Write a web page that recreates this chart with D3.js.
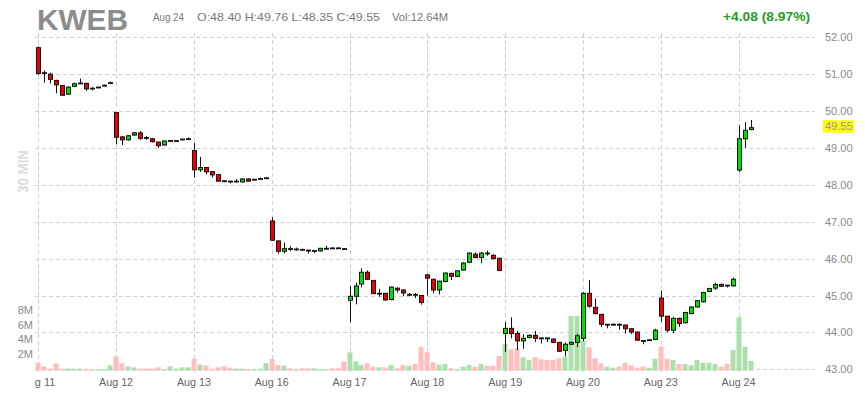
<!DOCTYPE html>
<html><head><meta charset="utf-8">
<script src="https://cdn.jsdelivr.net/npm/d3@7"></script>
<style>body{margin:0;background:#fff;} svg{display:block;}</style>
</head><body><svg id="c" width="865" height="400"></svg>
<script>
// ---- data ----
const dayLabels = ["Aug 11","Aug 12","Aug 13","Aug 16","Aug 17","Aug 18","Aug 19","Aug 20","Aug 23","Aug 24"];
const barsPerDay = 13;
const priceTicks = [43,44,45,46,47,48,49,50,51,52];
const volTicks = [2,4,6,8];
const volTickLabels = ["2M","4M","6M","8M"];

const opens = [
 51.72,51.04,51.00,50.83,50.69,50.46,50.67,50.75,50.75,50.62,50.64,50.69,50.75,
 49.96,49.30,49.22,49.35,49.41,49.28,49.25,49.16,49.08,49.19,49.20,49.23,49.25,
 48.93,48.41,48.47,48.36,48.28,48.11,48.10,48.10,48.08,48.16,48.14,48.16,48.18,
 47.02,46.48,46.20,46.27,46.25,46.25,46.23,46.21,46.21,46.27,46.29,46.29,46.27,
 44.87,44.98,45.31,45.63,45.41,45.04,45.06,44.89,45.20,45.15,45.02,45.03,45.00,
 45.56,45.44,45.15,45.38,45.60,45.52,45.69,45.90,46.12,46.03,46.15,46.09,46.01,
 43.97,44.11,43.97,43.77,43.86,43.92,43.85,43.85,43.82,43.73,43.51,43.68,43.73,
 43.84,45.06,44.68,44.49,44.21,44.21,44.22,44.20,44.10,44.01,43.78,43.79,43.81,
 44.93,44.44,44.06,44.38,44.26,44.51,44.69,44.83,45.11,45.20,45.30,45.28,45.26,
 48.40,49.25,49.50];
const highs = [
 51.75,51.10,51.04,50.85,50.70,50.67,50.77,50.88,50.77,50.65,50.66,50.72,50.80,
 49.97,49.33,49.35,49.43,49.46,49.33,49.27,49.17,49.20,49.21,49.21,49.25,49.28,
 49.14,48.76,48.48,48.37,48.29,48.12,48.11,48.16,48.17,48.18,48.16,48.20,48.21,
 47.12,46.50,46.44,46.34,46.30,46.27,46.24,46.23,46.29,46.35,46.30,46.30,46.28,
 45.26,45.35,45.74,45.68,45.42,45.18,45.07,45.24,45.22,45.17,45.07,45.07,45.01,
 45.58,45.46,45.40,45.62,45.62,45.68,45.90,46.17,46.17,46.18,46.22,46.12,46.02,
 44.29,44.41,44.04,43.95,43.95,44.04,43.86,43.86,43.84,43.74,43.73,43.75,43.97,
 45.10,45.42,44.92,44.50,44.23,44.24,44.24,44.21,44.11,44.02,43.79,43.81,44.10,
 45.13,44.45,44.42,44.40,44.56,44.70,44.88,45.10,45.21,45.35,45.33,45.29,45.49,
 49.61,49.70,49.76];
const lows = [
 50.98,50.77,50.75,50.48,50.41,50.44,50.65,50.74,50.55,50.56,50.62,50.67,50.74,
 49.10,49.08,49.20,49.33,49.22,49.22,49.15,49.00,49.06,49.18,49.17,49.22,49.22,
 48.20,48.35,48.28,48.20,48.08,48.07,48.04,48.06,48.06,48.09,48.13,48.15,48.16,
 46.48,46.14,46.14,46.20,46.21,46.22,46.14,46.15,46.19,46.25,46.27,46.27,46.24,
 44.27,44.76,45.22,45.42,45.04,44.97,44.86,44.87,45.08,44.98,44.99,44.93,44.75,
 45.00,45.06,45.03,45.36,45.42,45.50,45.67,45.88,46.01,45.88,46.08,45.98,45.66,
 43.47,43.84,43.52,43.56,43.84,43.74,43.70,43.74,43.71,43.47,43.35,43.66,43.60,
 43.76,44.67,44.49,44.14,44.11,44.18,44.07,43.97,43.96,43.77,43.68,43.78,43.79,
 44.29,44.00,43.98,44.15,44.24,44.49,44.67,44.81,45.09,45.15,45.23,45.22,45.24,
 48.35,49.00,49.48];
const closes = [
 51.02,51.02,50.86,50.71,50.43,50.65,50.74,50.76,50.60,50.61,50.65,50.70,50.77,
 49.29,49.22,49.33,49.41,49.26,49.27,49.17,49.06,49.19,49.20,49.20,49.24,49.25,
 48.41,48.47,48.35,48.27,48.10,48.10,48.09,48.10,48.16,48.10,48.15,48.17,48.19,
 46.50,46.20,46.27,46.26,46.26,46.24,46.22,46.22,46.28,46.28,46.28,46.28,46.26,
 44.98,45.26,45.63,45.44,45.05,45.06,44.88,45.23,45.15,45.07,45.03,45.02,44.81,
 45.47,45.15,45.39,45.61,45.52,45.67,45.88,46.15,46.03,46.15,46.14,46.00,45.68,
 44.11,43.97,43.77,43.84,43.92,43.84,43.84,43.84,43.73,43.49,43.68,43.73,43.91,
 45.06,44.71,44.51,44.22,44.22,44.22,44.21,44.10,44.01,43.79,43.77,43.80,44.06,
 44.44,44.06,44.38,44.24,44.54,44.69,44.86,45.08,45.19,45.30,45.25,45.26,45.44,
 49.25,49.48,49.55];
// volume in millions
const volumes = [
 1.10,0.58,0.27,0.98,0.27,0.27,0.27,0.27,0.27,0.18,0.18,0.18,0.71,
 1.90,0.98,0.58,0.45,0.27,0.27,0.27,0.45,0.18,0.58,0.27,0.45,0.45,
 1.64,0.84,0.71,0.27,0.45,0.58,0.40,0.27,0.27,0.18,0.18,0.27,1.03,
 1.57,0.76,0.67,0.32,0.19,0.32,0.32,0.32,0.19,0.19,0.32,0.32,1.26,
 2.47,1.26,0.76,0.99,0.54,0.45,0.45,0.76,0.32,0.76,0.67,0.90,3.18,
 2.47,1.12,0.80,0.90,0.32,0.19,0.54,0.76,0.54,0.90,0.67,0.67,2.00,
 3.58,2.87,3.00,1.80,1.44,1.80,1.53,1.44,1.44,1.66,1.88,7.34,7.34,
 4.03,3.14,1.66,0.99,0.54,0.40,0.54,1.07,0.72,0.40,0.54,0.40,1.61,
 3.22,1.61,1.44,0.90,0.90,0.72,1.44,1.07,1.07,0.90,0.54,0.90,2.78,
 7.17,3.22,1.30];

const headerSymbol = "KWEB";
const headerDate = "Aug 24";
const headerOHLC = "O:48.40 H:49.76 L:48.35 C:49.55";
const headerVol = "Vol:12.64M";
const headerChange = "+4.08 (8.97%)";
const lastPrice = 49.55;
const intervalLabel = "30 MIN";

// ---- chart ----
const svg = d3.select("#c");
const bars = opens.map((o,i)=>({i, o, h:highs[i], l:lows[i], c:closes[i], v:volumes[i]}));

const x = d3.scaleLinear().domain([0,130]).range([38.3, 38.3 + 130*5.985]);
const y = d3.scaleLinear().domain([43,52]).range([369.3, 37.3]);
const yv = d3.scaleLinear().domain([0,10]).range([370.7, 296.2]);
const plotL = 35, plotR = 815;

const NARROW = "'Liberation Sans Narrow','Arial Narrow',sans-serif";
const SANS = "'Liberation Sans',Arial,sans-serif";

// grid
const grid = svg.append("g").attr("stroke","#cfcfcf").attr("stroke-dasharray","4,3").attr("stroke-width",1);
grid.selectAll("line.h").data(priceTicks).join("line")
  .attr("x1",plotL).attr("x2",plotR)
  .attr("y1",d=>Math.round(y(d))+0.5).attr("y2",d=>Math.round(y(d))+0.5);
const dayIdx = dayLabels.map((d,k)=>k*barsPerDay);
grid.selectAll("line.v").data(dayIdx).join("line")
  .attr("y1",33).attr("y2",372)
  .attr("x1",d=>Math.round(x(d))+0.5).attr("x2",d=>Math.round(x(d))+0.5);

// volume
svg.append("g").selectAll("rect").data(bars).join("rect")
  .attr("x",d=>Math.round(x(d.i))-2.5)
  .attr("width",5)
  .attr("y",d=>yv(d.v))
  .attr("height",d=>yv(0)-yv(d.v))
  .attr("fill",d=>d.c>=d.o?"#addfad":"#ffbdbd");

// candles
const cg = svg.append("g");
cg.selectAll("line").data(bars).join("line")
  .attr("x1",d=>Math.round(x(d.i))+0.5).attr("x2",d=>Math.round(x(d.i))+0.5)
  .attr("y1",d=>y(d.h)).attr("y2",d=>y(d.l))
  .attr("stroke","#111").attr("stroke-width",1);
cg.selectAll("rect").data(bars).join("rect")
  .attr("x",d=>Math.round(x(d.i))-1.5)
  .attr("width",4)
  .attr("y",d=>y(Math.max(d.o,d.c)))
  .attr("height",d=>Math.max(0.8, Math.abs(y(d.o)-y(d.c))))
  .attr("fill",d=>d.c>=d.o?"#00dd00":"#ee0000")
  .attr("stroke","#111").attr("stroke-width",1);

// right price axis labels
svg.append("g").selectAll("text").data(priceTicks).join("text")
  .attr("x",825).attr("y",d=>y(d)+4)
  .attr("font-family",SANS).attr("font-size",11).attr("fill","#8a8a8a")
  .text(d=>d3.format(".2f")(d));

// last price highlight
svg.append("rect").attr("x",823).attr("y",y(lastPrice)-7.5).attr("width",31).attr("height",12.5).attr("fill","#ffff00");
svg.append("text").attr("x",825).attr("y",y(lastPrice)+2.5)
  .attr("font-family",SANS).attr("font-size",11).attr("fill","#999")
  .text(d3.format(".2f")(lastPrice));

// volume axis labels
svg.append("g").selectAll("text").data(volTicks).join("text")
  .attr("x",33).attr("y",(d)=>yv(d)+2.5).attr("text-anchor","end")
  .attr("font-family",SANS).attr("font-size",11).attr("fill","#8a8a8a")
  .text((d,i)=>volTickLabels[i]);

// x axis labels (clipped at plot left)
svg.append("clipPath").attr("id","xclip").append("rect").attr("x",plotL).attr("y",372).attr("width",plotR-plotL).attr("height",28);
svg.append("g").attr("clip-path","url(#xclip)").selectAll("text").data(dayLabels).join("text")
  .attr("x",(d,k)=>x(k*barsPerDay)).attr("y",385.5).attr("text-anchor","middle")
  .attr("font-family",SANS).attr("font-size",11.5).attr("fill","#666")
  .attr("textLength",34).attr("lengthAdjust","spacingAndGlyphs")
  .text(d=>d);

// header
svg.append("text").attr("x",37).attr("y",30).attr("font-family",NARROW).attr("font-weight","bold")
  .attr("font-size",29).attr("fill","#8c8c8c").attr("textLength",91).attr("lengthAdjust","spacingAndGlyphs").text(headerSymbol);
const hdr = [[headerDate,153,31],[headerOHLC,197,183],[headerVol,392,56]];
svg.append("g").selectAll("text").data(hdr).join("text")
  .attr("x",d=>d[1]).attr("y",21).attr("font-family",NARROW).attr("font-size",11.5).attr("fill","#777")
  .attr("textLength",d=>d[2]).attr("lengthAdjust","spacingAndGlyphs").text(d=>d[0]);
svg.append("text").attr("x",723).attr("y",21).attr("font-family",NARROW).attr("font-weight","bold")
  .attr("font-size",13.5).attr("fill","#1f9e1f").attr("textLength",87).attr("lengthAdjust","spacingAndGlyphs").text(headerChange);

// interval label
svg.append("text").attr("transform","translate(28,171.5) rotate(-90)").attr("text-anchor","middle")
  .attr("font-family",SANS).attr("font-weight","bold").attr("font-size",14).attr("fill","#dcdcdc")
  .attr("textLength",43).attr("lengthAdjust","spacingAndGlyphs").text(intervalLabel);
</script></body></html>
